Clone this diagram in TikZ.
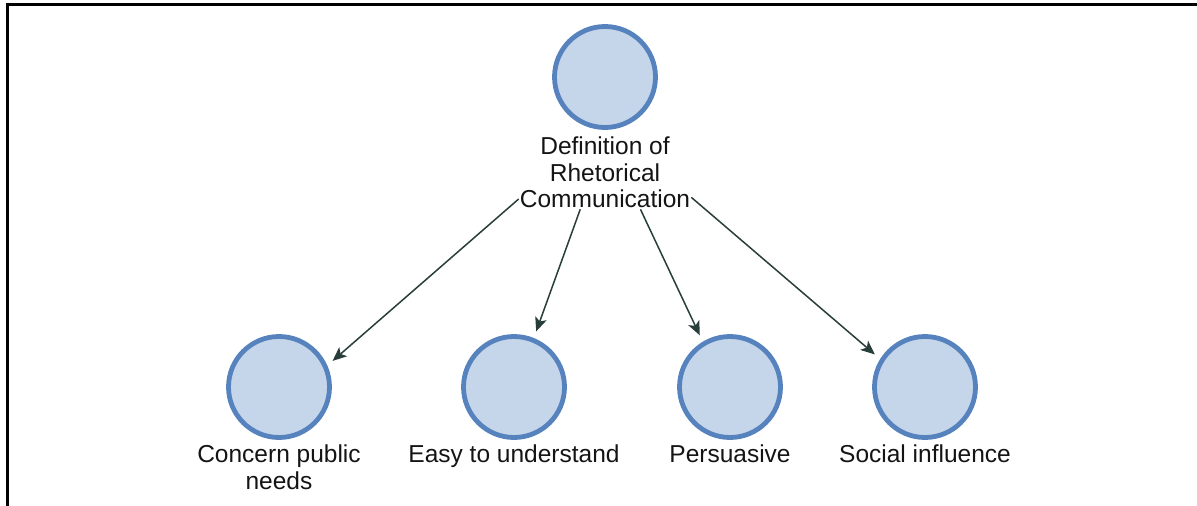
\documentclass[tikz,border=0pt]{standalone}
\usepackage{fontspec}
\setmainfont{Liberation Sans}
\usetikzlibrary{positioning,arrows.meta}
\definecolor{ringblue}{RGB}{86,131,189}
\definecolor{fillblue}{RGB}{197,213,234}
\definecolor{arrowgray}{RGB}{40,62,58}
\definecolor{textgray}{RGB}{20,20,20}

\begin{document}
\begin{tikzpicture}[x=1pt, y=1pt, node distance=4pt,
                    main node/.style={circle,draw=ringblue,fill=fillblue,line width=4.8pt,minimum size=101pt,inner sep=0pt},
                    label node/.style={align=center,text=textgray,inner sep=1pt,font=\fontsize{24.5}{26.5}\selectfont},
                    arrow/.style={draw=arrowgray,line width=1.5pt,-{Stealth[length=14pt,width=12pt,inset=3.5pt]},shorten >=7pt}]

  \useasboundingbox (0,0) rectangle (1197,-506);
  \draw[line width=3pt] (7,-506) -- (7,-4) -- (1197,-4);

  \node[main node] (1) at (605,-77) {};
  \node[label node] (l1) [below=6pt of 1] {Definition of\\Rhetorical\\Communication};

  \node[main node] (2) at (279,-387) {};
    \node[main node] (3) [right of=2, node distance=235pt] {};
      \node[main node] (4) [right of=3, node distance=216pt] {};
        \node[main node] (5) [right of=4, node distance=195pt] {};

  \node[label node] (l2) [below=of 2] {Concern public\\needs};
  \node[label node] (l3) [below=of 3] {Easy to understand};
  \node[label node] (l4) [below=of 4] {Persuasive};
  \node[label node] (l5) [below=of 5] {Social influence};

  \draw[arrow] (l1.197) -- (2.24);
  \draw[arrow] (l1.236) -- (3.68);
  \draw[arrow] (l1.314) -- (4.121);
  \draw[arrow] (l1.344) -- (5.148);

\end{tikzpicture}
\end{document}
